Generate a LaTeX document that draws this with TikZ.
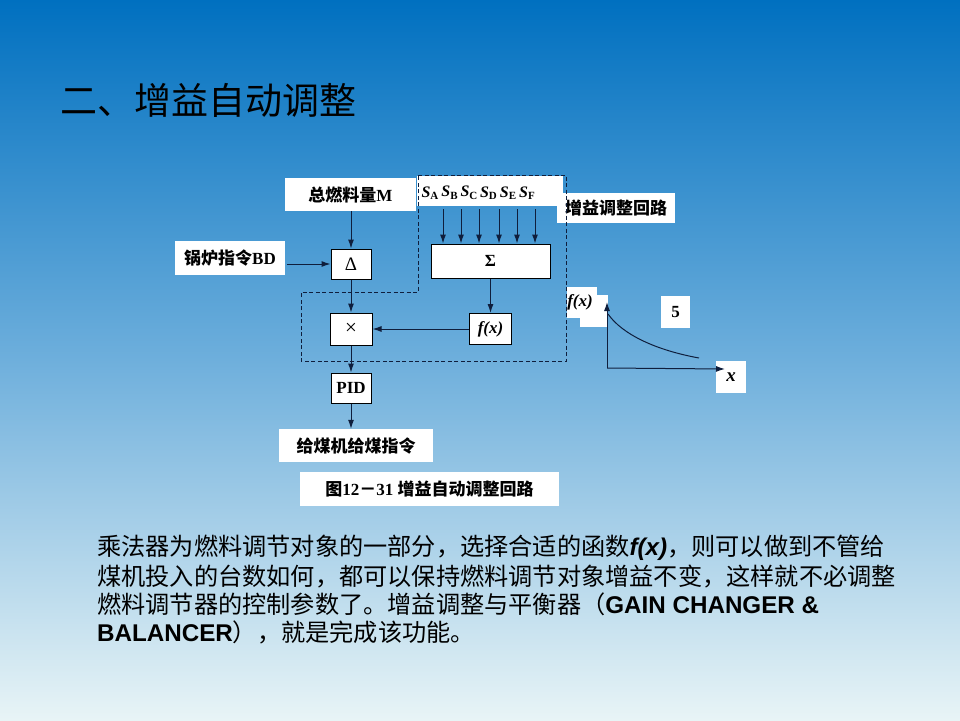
\documentclass[tikz,border=0pt]{standalone}
\usepackage{fontspec}
\setmainfont{Liberation Serif}
\newfontfamily\cjk{Noto Sans CJK SC}
\newfontfamily\arial{Liberation Sans}
\usetikzlibrary{arrows.meta}
\definecolor{ln}{RGB}{15,30,60}
\definecolor{bgA}{RGB}{0,112,192}
\definecolor{bgB}{RGB}{110,175,220}
\definecolor{bgC}{RGB}{232,244,246}
\newcommand{\Sl}[1]{{\bfseries\itshape S}\raisebox{-0.35ex}{\fontsize{11}{12}\selectfont\bfseries #1}}
\tikzset{
 blk/.style={draw=black, fill=white, line width=1pt, inner sep=0pt, font=\fontsize{17}{19}\selectfont\bfseries},
 wbox/.style={fill=white, inner sep=0pt, draw=none, font=\fontsize{17}{19}\selectfont\bfseries},
 lbl/.style={inner sep=0pt, font=\fontsize{17}{19}\selectfont\bfseries},
 slbl/.style={inner sep=0pt, font=\fontsize{16}{18}\selectfont\bfseries},
 arr/.style={draw=ln, line width=1pt, -{Latex[length=9pt,width=6pt]}},
 dashbox/.style={draw=ln, line width=1pt, dash pattern=on 4pt off 2.5pt},
 body/.style={inner sep=0pt, anchor=west, font=\fontsize{24.2}{28}\selectfont\cjk},
}
\begin{document}
\begin{tikzpicture}[x=1pt,y=-1pt]
\useasboundingbox (0,0) rectangle (960,720);
\shade[top color=bgA, bottom color=bgB] (0,0) rectangle (960,360);
\shade[top color=bgB, bottom color=bgC] (0,359.5) rectangle (960,720);

% title
\node[inner sep=0pt, anchor=west, font=\fontsize{37}{40}\selectfont\cjk] (title) at (60,100) {二、增益自动调整};

% white label boxes
\node[wbox, minimum width=131pt, minimum height=33pt] (mbox) at (350.5,194.5) {{\cjk\bfseries 总燃料量}M};
\node[wbox, minimum width=146pt, minimum height=30pt] (sbox) at (490,191) {};
\node[wbox, minimum width=118pt, minimum height=30pt] (gain) at (616,208) {\cjk\bfseries 增益调整回路};
\node[wbox, minimum width=110pt, minimum height=34pt] (bd) at (230,258) {{\cjk\bfseries 锅炉指令}BD};
\node[wbox, minimum width=154pt, minimum height=33pt] (feed) at (356,445.5) {\cjk\bfseries 给煤机给煤指令};
\node[wbox, minimum width=259pt, minimum height=34pt] (cap) at (429.5,489) {{\cjk\bfseries 图}12{\cjk\bfseries －}31\ {\cjk\bfseries 增益自动调整回路}};

% S labels
\node[slbl] (sA) at (430,193) {\Sl{A}};
\node[slbl] (sB) at (449.5,193) {\Sl{B}};
\node[slbl] (sC) at (469,193) {\Sl{C}};
\node[slbl] (sD) at (488.5,193) {\Sl{D}};
\node[slbl] (sE) at (508,193) {\Sl{E}};
\node[slbl] (sF) at (527,193) {\Sl{F}};

% blocks
\node[blk, minimum width=40pt, minimum height=30pt, font=\fontsize{19}{19}\selectfont] (delta) at (351,264) {Δ};
\node[blk, minimum width=119pt, minimum height=34pt] (sigma) at (490.5,261) {Σ};
\node[blk, minimum width=42pt, minimum height=32pt] (times) at (351,329) {\fontsize{21}{21}\selectfont\mdseries ×};
\node[blk, minimum width=42pt, minimum height=31pt] (fx) at (490.5,329) {\itshape f(x)};
\node[blk, minimum width=40pt, minimum height=30pt] (pid) at (351,388) {PID};

% connectors
\draw[arr] (delta.north |- mbox.south) -- (delta.north);
\draw[arr] (bd.east |- delta.west) ++(2,0) -- (delta.west);
\draw[arr] (delta) -- (times);
\draw[arr] (sigma) -- (fx);
\draw[arr] (fx) -- (times);
\draw[arr] (times) -- (pid);
\draw[arr] (pid.south) -- (pid.south |- feed.north);
\foreach \n/\dx in {sA/13,sB/11.5,sC/10,sD/10.5,sE/9,sF/8}{
  \draw[arr] ([xshift=\dx pt]\n.south |- sbox.south) ++(0,3) -- ([xshift=\dx pt]\n.south |- sigma.north);
}

% dashed region
\draw[dashbox] (418,175) -- (566,175) -- (566,361) -- (301,361) -- (301,292) -- (418,292) -- cycle;

% graph
\node[wbox, minimum width=30pt, minimum height=31pt] (fxw1) at (582,302.5) {};
\node[wbox, minimum width=28pt, minimum height=32pt] (fxw2) at (594,311) {};
\node[lbl, font=\fontsize{17}{19}\selectfont\bfseries\itshape] (fxl) at (580,302) {f(x)};
\node[wbox, minimum width=29pt, minimum height=32pt] (five) at (675.5,312) {5};
\node[wbox, minimum width=30pt, minimum height=32pt, font=\fontsize{19}{19}\selectfont\bfseries\itshape] (xl) at (731,377) {x};
\coordinate (O) at (607,368);
\coordinate (Yt) at (607,302);
\coordinate (Xt) at (725,369);
\draw[arr] (O) -- (Yt);
\draw[arr] (O) -- (Xt);
\draw[draw=ln, line width=1pt] (608,314) .. controls (622,334) and (655,350) .. (699,358);

% body text
\node[body] (l1) at (97,548) {乘法器为燃料调节对象的一部分，选择合适的函数{\arial\bfseries\itshape f(x)}，则可以做到不管给};
\node[body] (l2) at (97,577) {煤机投入的台数如何，都可以保持燃料调节对象增益不变，这样就不必调整};
\node[body] (l3) at (97,604) {燃料调节器的控制参数了。增益调整与平衡器（{\arial\bfseries GAIN CHANGER \&}};
\node[body] (l4) at (97,632) {{\arial\bfseries BALANCER}），就是完成该功能。};
\end{tikzpicture}
\end{document}
